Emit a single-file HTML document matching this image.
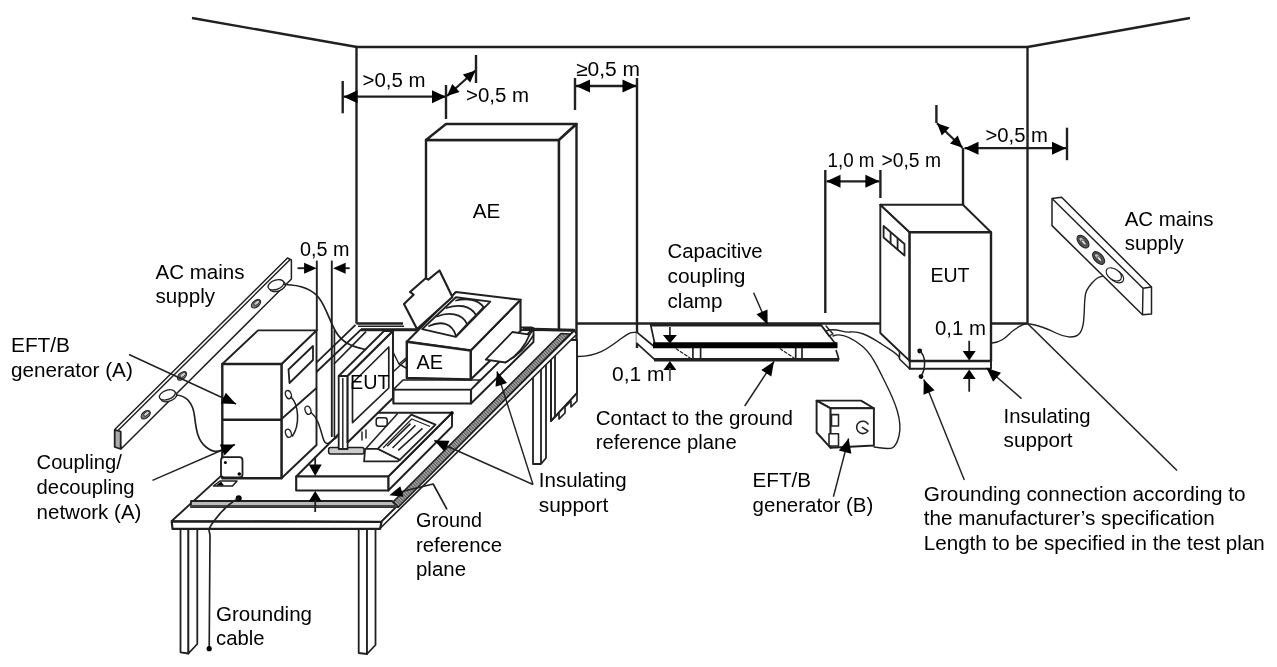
<!DOCTYPE html>
<html><head><meta charset="utf-8"><title>EFT/B test setup</title>
<style>
html,body{margin:0;padding:0;background:#fff;}
body{width:1277px;height:667px;overflow:hidden;}
svg{display:block;filter:blur(0.55px);}
svg text{font-family:"Liberation Sans",Arial,sans-serif;fill:#000;}
</style></head><body>
<svg width="1277" height="667" viewBox="0 0 1277 667">
<rect width="1277" height="667" fill="#fff"/>
<line x1="192" y1="18" x2="357" y2="47" stroke="#202020" stroke-width="2.4" />
<line x1="356" y1="47" x2="1028" y2="47" stroke="#202020" stroke-width="2.4" />
<line x1="1027.5" y1="47" x2="1190" y2="18" stroke="#202020" stroke-width="2.4" />
<line x1="356.5" y1="47" x2="356.5" y2="323.5" stroke="#202020" stroke-width="2.4" />
<line x1="1027.5" y1="47" x2="1027.5" y2="323.5" stroke="#202020" stroke-width="2.4" />
<line x1="356.5" y1="323.5" x2="403" y2="323.5" stroke="#202020" stroke-width="2.4" />
<line x1="577" y1="323.5" x2="880" y2="323.5" stroke="#202020" stroke-width="2.4" />
<line x1="991" y1="323.5" x2="1027.5" y2="323.5" stroke="#202020" stroke-width="2.4" />
<line x1="1027.5" y1="323.5" x2="1177" y2="470.5" stroke="#202020" stroke-width="1.56" />
<line x1="342.7" y1="81" x2="342.7" y2="113.3" stroke="#202020" stroke-width="2.4" />
<line x1="343.5" y1="96.7" x2="446" y2="96.7" stroke="#202020" stroke-width="2.28" />
<polygon points="446.0,96.7 432.0,103.2 432.0,90.2" fill="#000"/>
<polygon points="343.5,96.7 357.5,90.2 357.5,103.2" fill="#000"/>
<line x1="446" y1="85" x2="446" y2="119" stroke="#202020" stroke-width="2.4" />
<line x1="447" y1="96" x2="475.5" y2="70.5" stroke="#202020" stroke-width="2.28" />
<polygon points="475.5,70.5 470.2,82.6 462.9,74.4" fill="#000"/>
<polygon points="447.0,96.0 452.3,83.9 459.6,92.1" fill="#000"/>
<line x1="476" y1="55" x2="476" y2="83" stroke="#202020" stroke-width="2.4" />
<text x="362.5" y="86.8" font-size="20.5" textLength="63" lengthAdjust="spacingAndGlyphs" >&gt;0,5 m</text>
<text x="466" y="101.7" font-size="20.5" textLength="63" lengthAdjust="spacingAndGlyphs" >&gt;0,5 m</text>
<text x="576" y="76" font-size="20.5" textLength="64" lengthAdjust="spacingAndGlyphs" >≥0,5 m</text>
<line x1="575" y1="78" x2="575" y2="110" stroke="#202020" stroke-width="2.4" />
<line x1="576" y1="86" x2="636.5" y2="86" stroke="#202020" stroke-width="2.28" />
<polygon points="636.5,86.0 622.5,92.5 622.5,79.5" fill="#000"/>
<polygon points="576.0,86.0 590.0,79.5 590.0,92.5" fill="#000"/>
<line x1="637" y1="78" x2="637" y2="348" stroke="#202020" stroke-width="2.4" />
<text x="827.5" y="166.7" font-size="20.5" textLength="47" lengthAdjust="spacingAndGlyphs" >1,0 m</text>
<text x="881.5" y="166.7" font-size="20.5" textLength="59.5" lengthAdjust="spacingAndGlyphs" >&gt;0,5 m</text>
<line x1="825.3" y1="170" x2="825.3" y2="313" stroke="#202020" stroke-width="2.4" />
<line x1="880.4" y1="170" x2="880.4" y2="198" stroke="#202020" stroke-width="2.4" />
<line x1="826.5" y1="181.3" x2="879.4" y2="181.3" stroke="#202020" stroke-width="2.28" />
<polygon points="879.4,181.3 865.4,187.8 865.4,174.8" fill="#000"/>
<polygon points="826.5,181.3 840.5,174.8 840.5,187.8" fill="#000"/>
<line x1="936.4" y1="105" x2="936.4" y2="123" stroke="#202020" stroke-width="2.4" />
<line x1="937" y1="123.2" x2="962.5" y2="147.7" stroke="#202020" stroke-width="2.28" />
<polygon points="962.5,147.7 950.0,143.4 957.7,135.4" fill="#000"/>
<polygon points="937.0,123.2 949.5,127.5 941.8,135.5" fill="#000"/>
<line x1="963" y1="148" x2="963" y2="205" stroke="#202020" stroke-width="2.4" />
<line x1="964.5" y1="148.2" x2="1066" y2="148.2" stroke="#202020" stroke-width="2.28" />
<polygon points="1066.0,148.2 1052.0,154.7 1052.0,141.7" fill="#000"/>
<polygon points="964.5,148.2 978.5,141.7 978.5,154.7" fill="#000"/>
<line x1="1067" y1="127.7" x2="1067" y2="160.2" stroke="#202020" stroke-width="2.4" />
<text x="985.5" y="141.7" font-size="20.5" textLength="62.5" lengthAdjust="spacingAndGlyphs" >&gt;0,5 m</text>
<polyline points="426,330 426,140 559,140 559,330" fill="#fff" stroke="#202020" stroke-width="2.4" stroke-linejoin="round" />
<polygon points="426,140 446,124 576.5,124 559,140" fill="#fff" stroke="#202020" stroke-width="2.4" stroke-linejoin="round" />
<polygon points="559,140 576.5,124 576.5,393 559,393" fill="#fff" stroke="#202020" stroke-width="2.4" stroke-linejoin="round" />
<line x1="559" y1="140" x2="559" y2="330" stroke="#202020" stroke-width="1.92" />
<text x="472.7" y="218" font-size="20.5" textLength="27.5" lengthAdjust="spacingAndGlyphs" >AE</text>
<polygon points="551,340 577,340 577,393 551,421" fill="#fff" stroke="#202020" stroke-width="1.92" stroke-linejoin="round" />
<path d="M577 393 L577 401 L571 407 L571 401 L565 407 L565 413 L559 419 L559 413 L551 421" fill="none" stroke="#202020" stroke-width="1.68" stroke-linecap="round" stroke-linejoin="round" />
<path d="M577 356.5 C 600 357, 612 345, 622 338 S 632 332.5, 637 332.5" fill="none" stroke="#202020" stroke-width="1.38" stroke-linecap="round" stroke-linejoin="round" />
<polygon points="636.4,331.8 636.4,342.8 655,359.8 839,359.8 836.5,352 655,348" fill="#fff" stroke="none" stroke-width="0.0" stroke-linejoin="round" />
<line x1="636.4" y1="331.8" x2="653.5" y2="346" stroke="#202020" stroke-width="1.68" />
<line x1="636.4" y1="342.8" x2="655" y2="359.8" stroke="#202020" stroke-width="1.68" />
<line x1="839" y1="359.8" x2="836" y2="350" stroke="#202020" stroke-width="1.68" />
<line x1="654" y1="359.8" x2="839" y2="359.8" stroke="#202020" stroke-width="3.6" />
<line x1="692.9" y1="348" x2="692.9" y2="359" stroke="#202020" stroke-width="1.68" />
<line x1="700.6" y1="348" x2="700.6" y2="359" stroke="#202020" stroke-width="1.68" />
<line x1="795.7" y1="348" x2="795.7" y2="359" stroke="#202020" stroke-width="1.68" />
<line x1="802" y1="348" x2="802" y2="359" stroke="#202020" stroke-width="1.68" />
<path d="M672 346 L690 358" fill="none" stroke="#202020" stroke-width="1.2" stroke-linecap="round" stroke-linejoin="round" stroke-dasharray="3 2"/>
<path d="M776 346 L794 358" fill="none" stroke="#202020" stroke-width="1.2" stroke-linecap="round" stroke-linejoin="round" stroke-dasharray="3 2"/>
<polygon points="650.7,325 821,325 836.4,345 655,345" fill="#fff" stroke="#202020" stroke-width="1.68" stroke-linejoin="round" />
<line x1="650" y1="324.8" x2="821" y2="324.8" stroke="#202020" stroke-width="3.6" />
<line x1="653" y1="345.2" x2="837.5" y2="345.2" stroke="#000" stroke-width="6.12" />
<path d="M821 325 L829 336 L833 334 L826 326" fill="none" stroke="#202020" stroke-width="1.38" stroke-linecap="round" stroke-linejoin="round" />
<line x1="669.9" y1="327" x2="669.9" y2="338" stroke="#202020" stroke-width="1.68" />
<polygon points="669.9,343.5 662.9,335.0 676.9,335.0" fill="#000"/>
<polygon points="669.9,361.0 676.4,370.0 663.4,370.0" fill="#000"/>
<line x1="669.9" y1="368" x2="669.9" y2="381" stroke="#555" stroke-width="1.92" />
<text x="612" y="380.6" font-size="20.5" textLength="52.5" lengthAdjust="spacingAndGlyphs" >0,1 m</text>
<text x="667.5" y="257.9" font-size="20.5" textLength="95.2" lengthAdjust="spacingAndGlyphs" >Capacitive</text>
<text x="667.5" y="283" font-size="20.5" textLength="78" lengthAdjust="spacingAndGlyphs" >coupling</text>
<text x="667.5" y="308" font-size="20.5" textLength="55" lengthAdjust="spacingAndGlyphs" >clamp</text>
<line x1="753.6" y1="292.7" x2="767.6" y2="324.6" stroke="#202020" stroke-width="1.44" />
<polygon points="767.6,324.6 756.5,314.2 767.5,309.4" fill="#000"/>
<line x1="744.7" y1="406" x2="774" y2="361.5" stroke="#202020" stroke-width="1.44" />
<polygon points="774.0,361.5 771.3,376.5 761.3,369.9" fill="#000"/>
<text x="595.7" y="425.2" font-size="20.5" textLength="197.3" lengthAdjust="spacingAndGlyphs" >Contact to the ground</text>
<text x="595.7" y="449.3" font-size="20.5" textLength="141" lengthAdjust="spacingAndGlyphs" >reference plane</text>
<path d="M826 331 C 836 327, 842 333, 850 332 S 866 334, 880 343" fill="none" stroke="#202020" stroke-width="1.38" stroke-linecap="round" stroke-linejoin="round" />
<path d="M833 336 C 842 332, 852 338, 862 346 S 878 368, 886 384 S 903 420, 899 436 S 890 449, 874 447" fill="none" stroke="#202020" stroke-width="1.38" stroke-linecap="round" stroke-linejoin="round" />
<path d="M880 343 C 890 350, 896 352, 900 358" fill="none" stroke="#202020" stroke-width="1.38" stroke-linecap="round" stroke-linejoin="round" />
<polygon points="816.6,400.6 861,400.6 873.9,408.3 830.6,408.3" fill="#fff" stroke="#202020" stroke-width="1.92" stroke-linejoin="round" />
<polygon points="816.6,400.6 830.6,408.3 830.6,447.8 816.6,432.5" fill="#fff" stroke="#202020" stroke-width="1.92" stroke-linejoin="round" />
<polygon points="830.6,408.3 873.9,408.3 873.9,445.5 830.6,447.8" fill="#fff" stroke="#202020" stroke-width="1.92" stroke-linejoin="round" />
<polygon points="831.5,414.6 838.5,414.6 838.5,426 831.5,426" fill="#fff" stroke="#202020" stroke-width="1.56" stroke-linejoin="round" />
<polygon points="829,433.8 838.5,433.8 838.5,446 829,446" fill="#fff" stroke="#202020" stroke-width="1.56" stroke-linejoin="round" />
<path d="M868 424 A6.2 6.2 0 1 0 867 432 M862.4 427.4 L868 431" fill="none" stroke="#202020" stroke-width="1.56" stroke-linecap="round" stroke-linejoin="round" />
<line x1="833.4" y1="496.8" x2="848.6" y2="438.5" stroke="#202020" stroke-width="1.44" />
<polygon points="848.6,438.5 851.4,453.7 838.8,450.4" fill="#000"/>
<text x="752.6" y="486.7" font-size="20.5" textLength="58.4" lengthAdjust="spacingAndGlyphs" >EFT/B</text>
<text x="752.6" y="512" font-size="20.5" textLength="120.7" lengthAdjust="spacingAndGlyphs" >generator (B)</text>
<polygon points="880.3,204.7 909.6,232.2 909.6,361 880.3,333" fill="#fff" stroke="#202020" stroke-width="1.92" stroke-linejoin="round" />
<polygon points="880.3,204.7 963,204.7 991,232.2 909.6,232.2" fill="#fff" stroke="#202020" stroke-width="1.92" stroke-linejoin="round" />
<polygon points="909.6,361 991,361 991,368.8 909.6,368.8" fill="#fff" stroke="#202020" stroke-width="1.92" stroke-linejoin="round" />
<polygon points="909.6,361 909.6,368.8 899.5,359 899.5,351.5" fill="#fff" stroke="#202020" stroke-width="1.56" stroke-linejoin="round" />
<polygon points="909.6,232.2 991,232.2 991,361 909.6,361" fill="#fff" stroke="#202020" stroke-width="2.4" stroke-linejoin="round" />
<polygon points="883.6,226 904.5,244 904.5,255.5 883.6,237.5" fill="#fff" stroke="#202020" stroke-width="1.8" stroke-linejoin="round" />
<line x1="890.6" y1="232" x2="890.6" y2="243.5" stroke="#202020" stroke-width="1.8" />
<line x1="897.6" y1="238" x2="897.6" y2="249.5" stroke="#202020" stroke-width="1.8" />
<text x="930.4" y="282" font-size="20.5" textLength="39" lengthAdjust="spacingAndGlyphs" >EUT</text>
<text x="935" y="335.4" font-size="20.5" textLength="51" lengthAdjust="spacingAndGlyphs" >0,1 m</text>
<circle cx="919.7" cy="351" r="2.4" fill="#000"/>
<circle cx="921" cy="376.6" r="2.4" fill="#000"/>
<path d="M919.7 351 C 926 356, 926 368, 921 376.4" fill="none" stroke="#202020" stroke-width="1.56" stroke-linecap="round" stroke-linejoin="round" />
<line x1="969.2" y1="340.8" x2="969.2" y2="352" stroke="#202020" stroke-width="1.8" />
<polygon points="969.2,360.6 962.7,351.1 975.7,351.1" fill="#000"/>
<polygon points="969.2,369.6 975.7,379.1 962.7,379.1" fill="#000"/>
<line x1="969.2" y1="378" x2="969.2" y2="391.7" stroke="#202020" stroke-width="1.8" />
<line x1="1021.5" y1="398.6" x2="986.5" y2="368" stroke="#202020" stroke-width="1.44" />
<polygon points="986.5,368.0 1001.0,372.7 993.1,381.7" fill="#000"/>
<line x1="964.3" y1="480" x2="923.8" y2="379.5" stroke="#202020" stroke-width="1.44" />
<polygon points="923.8,379.5 934.6,390.2 923.5,394.7" fill="#000"/>
<text x="1003.6" y="422.7" font-size="20.5" textLength="87" lengthAdjust="spacingAndGlyphs" >Insulating</text>
<text x="1003.6" y="447" font-size="20.5" textLength="69" lengthAdjust="spacingAndGlyphs" >support</text>
<text x="923.8" y="501.3" font-size="20.5" textLength="321.8" lengthAdjust="spacingAndGlyphs" >Grounding connection according to</text>
<text x="923.8" y="525.4" font-size="20.5" textLength="291" lengthAdjust="spacingAndGlyphs" >the manufacturer’s specification</text>
<text x="923.8" y="550.2" font-size="20.5" textLength="341" lengthAdjust="spacingAndGlyphs" >Length to be specified in the test plan</text>
<path d="M992 343 C 1004 342, 1008 334, 1014 330 S 1024 323, 1030 324 S 1048 329, 1056 333 S 1074 339, 1079 334 S 1084 318, 1084.5 305 S 1086 290, 1092 283 S 1100 277, 1106 275.5" fill="none" stroke="#202020" stroke-width="1.38" stroke-linecap="round" stroke-linejoin="round" />
<polygon points="1052,198.5 1061.6,197.3 1151.5,287 1151.5,314 1142.5,314.8 1052,225.6" fill="#fff" stroke="#202020" stroke-width="1.5" stroke-linejoin="round" />
<line x1="1052.5" y1="199" x2="1143" y2="288.3" stroke="#202020" stroke-width="1.44" />
<line x1="1143" y1="288.3" x2="1151.5" y2="287" stroke="#202020" stroke-width="1.44" />
<line x1="1143" y1="288.3" x2="1142.5" y2="314.8" stroke="#202020" stroke-width="1.44" />
<ellipse cx="1083" cy="241.6" rx="7.6" ry="4.4" transform="rotate(48 1083 241.6)" fill="#555" stroke="#202020" stroke-width="1.0"/>
<ellipse cx="1082.4" cy="240.79999999999998" rx="4.6" ry="2.2" transform="rotate(48 1082.4 240.79999999999998)" fill="#bbb" stroke="#202020" stroke-width="0.8"/>
<ellipse cx="1083.8" cy="242.6" rx="3.2" ry="1.2" transform="rotate(48 1083.8 242.6)" fill="#eee" stroke="#202020" stroke-width="0.6"/>
<ellipse cx="1098.6" cy="258" rx="7.6" ry="4.4" transform="rotate(48 1098.6 258)" fill="#555" stroke="#202020" stroke-width="1.0"/>
<ellipse cx="1098.0" cy="257.2" rx="4.6" ry="2.2" transform="rotate(48 1098.0 257.2)" fill="#bbb" stroke="#202020" stroke-width="0.8"/>
<ellipse cx="1099.3999999999999" cy="259.0" rx="3.2" ry="1.2" transform="rotate(48 1099.3999999999999 259.0)" fill="#eee" stroke="#202020" stroke-width="0.6"/>
<ellipse cx="1116" cy="276.2" rx="8.6" ry="5.4" transform="rotate(35 1116 276.2)" fill="#fff" stroke="#202020" stroke-width="1.2"/>
<ellipse cx="1113.8" cy="274.4" rx="8.6" ry="5.4" transform="rotate(35 1113.8 274.4)" fill="#fff" stroke="#202020" stroke-width="1.2"/>
<text x="1124.7" y="226.3" font-size="20.5" textLength="88.7" lengthAdjust="spacingAndGlyphs" >AC mains</text>
<text x="1124.7" y="250.4" font-size="20.5" textLength="59" lengthAdjust="spacingAndGlyphs" >supply</text>
<line x1="316.4" y1="362.6" x2="355.5" y2="324.8" stroke="#202020" stroke-width="1.8" />
<line x1="358" y1="326.2" x2="404" y2="326.2" stroke="#202020" stroke-width="1.44" />
<polygon points="533,372 541,364 546,359 546,458 541,464 533,464" fill="#fff" stroke="#202020" stroke-width="1.8" stroke-linejoin="round" />
<line x1="541" y1="364" x2="541" y2="464" stroke="#202020" stroke-width="1.8" />
<line x1="551" y1="352" x2="551" y2="421" stroke="#202020" stroke-width="1.8" />
<line x1="555" y1="348" x2="555" y2="417" stroke="#202020" stroke-width="1.8" />
<polygon points="171.7,521 222.2,474.9 316.4,372 361,329.6 574.5,330.3 381.5,521.7" fill="#fff" stroke="#202020" stroke-width="1.92" stroke-linejoin="round" />
<line x1="361" y1="329.8" x2="416" y2="329.8" stroke="#202020" stroke-width="3.12" />
<line x1="523" y1="329" x2="574.5" y2="330.3" stroke="#202020" stroke-width="3.12" />
<polygon points="381.5,521.7 574.5,330.3 576.5,334.5 380,528.5" fill="#fff" stroke="#202020" stroke-width="1.68" stroke-linejoin="round" />
<polygon points="171.7,521.5 381.5,522 380,528.9 172.5,528.9" fill="#fff" stroke="#202020" stroke-width="2.16" stroke-linejoin="round" />
<polygon points="180.5,529 188.4,529 188.4,653.5 180.5,652.3" fill="#fff" stroke="#202020" stroke-width="1.8" stroke-linejoin="round" />
<polygon points="188.4,529 197.3,529 197.3,644 188.4,653.5" fill="#fff" stroke="#202020" stroke-width="1.8" stroke-linejoin="round" />
<polygon points="358.7,529 367,529 367,654 358.7,653" fill="#fff" stroke="#202020" stroke-width="1.8" stroke-linejoin="round" />
<polygon points="367,529 375.5,529 375.5,645 367,654" fill="#fff" stroke="#202020" stroke-width="1.8" stroke-linejoin="round" />
<defs><pattern id="hat" width="2.4" height="2.4" patternUnits="userSpaceOnUse" patternTransform="rotate(-45)"><rect width="2.4" height="2.4" fill="#aaa"/><rect width="1.1" height="2.4" fill="#555"/></pattern></defs>
<polygon points="390.5,504.5 561,333.5 570,334 398.5,507" fill="url(#hat)" stroke="#202020" stroke-width="1.68" stroke-linejoin="round" />
<polygon points="191,501 392,501 398,507 191,507" fill="#bbb" stroke="#202020" stroke-width="1.8" stroke-linejoin="round" />
<line x1="190" y1="506.3" x2="397" y2="506.3" stroke="#444" stroke-width="2.64" />
<polygon points="471,389.5 533.5,328.3 533.5,342 471,403.5" fill="#fff" stroke="#202020" stroke-width="1.92" stroke-linejoin="round" />
<polygon points="393.4,389.5 471,389.5 471,403.5 393.4,403.5" fill="#fff" stroke="#202020" stroke-width="2.16" stroke-linejoin="round" />
<polygon points="393.4,389.5 403,380 480,380 471,389.5" fill="#fff" stroke="#202020" stroke-width="1.68" stroke-linejoin="round" />
<path d="M521 327.5 L531 327.5 Q533.5 327.5 533.5 330" fill="none" stroke="#202020" stroke-width="1.92" stroke-linecap="round" stroke-linejoin="round" />
<polygon points="470.7,350.5 520.5,299.8 520.5,331 470.7,379.5" fill="#fff" stroke="#202020" stroke-width="2.16" stroke-linejoin="round" />
<polygon points="406.8,341.8 455.9,292 520.5,299.8 470.7,350.5" fill="#fff" stroke="#202020" stroke-width="2.16" stroke-linejoin="round" />
<polygon points="406.8,341.8 470.7,350.5 470.7,379.5 406.8,378" fill="#fff" stroke="#202020" stroke-width="2.4" stroke-linejoin="round" />
<polygon points="422.2,329.1 455.9,297.2 490.3,301.6 455.9,336.9" fill="#fff" stroke="#202020" stroke-width="1.92" stroke-linejoin="round" />
<path d="M429 326 C 440 321, 452 322, 456 336 M437 316.5 C 448 312, 462 313, 467 324 M446.4 308 C 458 304, 470 305, 476 315 M456 300.5 C 466 298, 478 299, 483.5 307" fill="none" stroke="#202020" stroke-width="1.8" stroke-linecap="round" stroke-linejoin="round" />
<path d="M456 336 L467 324 M467 324 L476 315 M476 315 L483.5 307" fill="none" stroke="#202020" stroke-width="1.44" stroke-linecap="round" stroke-linejoin="round" />
<polygon points="417,329 404,304 413.6,294.7 410,292 425.7,278.3 428.3,279.6 439.5,270.5 452.4,297" fill="#fff" stroke="#202020" stroke-width="2.16" stroke-linejoin="round" />
<path d="M485.7 359.7 L512.4 332 L529.5 334.7 Q 523 352 505.5 362.5 Z" fill="#fff" stroke="#202020" stroke-width="1.8" stroke-linecap="round" stroke-linejoin="round" />
<path d="M529.5 334.7 L533 330 M505.5 362.5 Q 524 352 533.5 335" fill="none" stroke="#202020" stroke-width="1.56" stroke-linecap="round" stroke-linejoin="round" />
<polygon points="388.3,476.5 452,412.8 452,426.5 388.3,490.5" fill="#fff" stroke="#202020" stroke-width="1.92" stroke-linejoin="round" />
<polygon points="296.2,476.5 360,412.8 452,412.8 388.3,476.5" fill="#fff" stroke="#202020" stroke-width="1.92" stroke-linejoin="round" />
<polygon points="296.2,476.5 388.3,476.5 388.3,490.5 296.2,490.5" fill="#fff" stroke="#202020" stroke-width="2.16" stroke-linejoin="round" />
<circle cx="452" cy="413" r="1.8" fill="#000"/>
<line x1="366.2" y1="448.3" x2="397.7" y2="413.6" stroke="#202020" stroke-width="1.56" />
<rect x="376.2" y="417.8" width="11" height="8.4" rx="2.5" fill="#fff" stroke="#1c1c1c" stroke-width="1.5"/>
<polygon points="365.1,448.8 377.7,448.8 399.8,459.8 397.7,461.4 364.1,461.4" fill="#fff" stroke="#202020" stroke-width="1.8" stroke-linejoin="round" />
<polygon points="377.7,448.8 411.3,414.7 435.5,424.7 399.8,459.8" fill="#fff" stroke="#202020" stroke-width="1.8" stroke-linejoin="round" />
<line x1="387.2" y1="446.2" x2="410.5" y2="423.6" stroke="#202020" stroke-width="1.56" />
<line x1="392.5" y1="448" x2="415.5" y2="425.2" stroke="#202020" stroke-width="1.56" />
<line x1="398.2" y1="450.4" x2="422.4" y2="428.3" stroke="#202020" stroke-width="1.56" />
<path d="M383.5 447.5 L411.8 419 L429.5 426.3" fill="none" stroke="#202020" stroke-width="1.2" stroke-linecap="round" stroke-linejoin="round" />
<line x1="404" y1="461" x2="449" y2="416" stroke="#202020" stroke-width="1.56" />
<line x1="331.8" y1="260.6" x2="331.8" y2="437" stroke="#202020" stroke-width="1.92" />
<line x1="334.4" y1="330" x2="334.4" y2="437" stroke="#202020" stroke-width="1.68" />
<line x1="334" y1="364" x2="366" y2="331.6" stroke="#202020" stroke-width="1.68" />
<rect x="328.6" y="447.4" width="35.4" height="6.6" rx="2" fill="#ccc" stroke="#1c1c1c" stroke-width="1.5"/>
<path d="M362 432 L362 440 M366 430 L366 438" fill="none" stroke="#202020" stroke-width="1.44" stroke-linecap="round" stroke-linejoin="round" />
<polygon points="338.7,376 347.6,376 393,331 384,331" fill="#fff" stroke="#202020" stroke-width="1.8" stroke-linejoin="round" />
<polygon points="338.7,376 347.6,376 347.6,449 338.7,449" fill="#fff" stroke="#202020" stroke-width="1.8" stroke-linejoin="round" />
<line x1="342.8" y1="378" x2="342.8" y2="449" stroke="#202020" stroke-width="1.44" />
<polygon points="347.6,376 393,331 393,398 347.6,442.4" fill="#fff" stroke="#202020" stroke-width="2.04" stroke-linejoin="round" />
<polygon points="352.5,383 388.8,347 388.8,388 352.5,422.6" fill="#fff" stroke="#202020" stroke-width="1.68" stroke-linejoin="round" />
<text x="350" y="388.8" font-size="20.5" textLength="39.5" lengthAdjust="spacingAndGlyphs" >EUT</text>
<path d="M393 352 L399 364 L406 368 M399 364 L406 358 M393 372 L406 360" fill="none" stroke="#202020" stroke-width="1.44" stroke-linecap="round" stroke-linejoin="round" />
<polygon points="281.5,364 316.5,330.4 316.5,445 281.5,478.3" fill="#fff" stroke="#202020" stroke-width="1.92" stroke-linejoin="round" />
<polygon points="222.3,364 258,330.4 316.5,330.4 281.5,364" fill="#fff" stroke="#202020" stroke-width="1.92" stroke-linejoin="round" />
<polygon points="222.3,364 281.5,364 281.5,478.3 222.3,478.3" fill="#fff" stroke="#202020" stroke-width="2.4" stroke-linejoin="round" />
<line x1="222.3" y1="419.8" x2="281.5" y2="419.8" stroke="#202020" stroke-width="2.4" />
<line x1="281.5" y1="419" x2="316.5" y2="388" stroke="#202020" stroke-width="1.8" />
<polygon points="288.5,369.5 313,346 313,360 289.5,383" fill="#fff" stroke="#202020" stroke-width="1.8" stroke-linejoin="round" />
<ellipse cx="288.4" cy="394.6" rx="2.8" ry="4.2" transform="rotate(-20 288.4 394.6)" fill="#fff" stroke="#202020" stroke-width="1.3"/>
<ellipse cx="308" cy="410.2" rx="2.8" ry="4.2" transform="rotate(-20 308 410.2)" fill="#fff" stroke="#202020" stroke-width="1.3"/>
<ellipse cx="288.4" cy="433.3" rx="2.8" ry="4.2" transform="rotate(-20 288.4 433.3)" fill="#fff" stroke="#202020" stroke-width="1.3"/>
<path d="M291 397 C 299 405, 300 425, 292.5 436" fill="none" stroke="#202020" stroke-width="1.56" stroke-linecap="round" stroke-linejoin="round" />
<path d="M311 412.5 C 318 418, 320 428, 323 438 S 330 442, 337 437" fill="none" stroke="#202020" stroke-width="1.56" stroke-linecap="round" stroke-linejoin="round" />
<line x1="316.8" y1="260.6" x2="316.8" y2="331" stroke="#202020" stroke-width="1.92" />
<line x1="297.5" y1="268.2" x2="306" y2="268.2" stroke="#202020" stroke-width="1.92" />
<polygon points="316.6,268.2 304.1,273.7 304.1,262.7" fill="#000"/>
<line x1="345" y1="268.2" x2="349.7" y2="268.2" stroke="#202020" stroke-width="1.92" />
<polygon points="333.1,268.2 345.6,262.7 345.6,273.7" fill="#000"/>
<text x="300" y="255.6" font-size="20.5" textLength="49.5" lengthAdjust="spacingAndGlyphs" >0,5 m</text>
<rect x="221" y="457.2" width="21.5" height="20.3" rx="3" fill="#fff" stroke="#1c1c1c" stroke-width="1.8"/>
<circle cx="225.4" cy="462.5" r="1.5" fill="#000"/>
<circle cx="239.3" cy="474" r="1.8" fill="#000"/>
<polygon points="220,481 237,481 232.5,486 213.4,486" fill="#fff" stroke="#202020" stroke-width="1.56" stroke-linejoin="round" />
<polygon points="216,485.5 221,481.5 224,485.5" fill="#000"/>
<circle cx="238.7" cy="498.3" r="3" fill="#000"/>
<path d="M238.7 498.3 C 230 503, 222 510, 214 521 S 210 530, 210 536 L 209.2 648.7" fill="none" stroke="#202020" stroke-width="1.68" stroke-linecap="round" stroke-linejoin="round" />
<circle cx="209.2" cy="648.7" r="2.6" fill="#000"/>
<line x1="315.2" y1="456.8" x2="315.2" y2="466" stroke="#202020" stroke-width="1.8" />
<polygon points="315.2,476.0 308.7,464.5 321.7,464.5" fill="#000"/>
<polygon points="315.2,491.0 321.7,501.5 308.7,501.5" fill="#000"/>
<line x1="315.2" y1="500" x2="315.2" y2="512" stroke="#202020" stroke-width="1.8" />
<polygon points="114.7,429.5 287.5,258 291.4,260 291.4,279 121.5,448.5" fill="#fff" stroke="#202020" stroke-width="1.5" stroke-linejoin="round" />
<line x1="118" y1="430.5" x2="290.2" y2="259.4" stroke="#202020" stroke-width="1.44" />
<polygon points="114.7,429.8 120.7,431.5 120.7,449 114.7,447" fill="#aaa" stroke="#202020" stroke-width="1.8" stroke-linejoin="round" />
<ellipse cx="256" cy="303.8" rx="5.4" ry="3.2" transform="rotate(-40 256 303.8)" fill="#777" stroke="#202020" stroke-width="1.1"/>
<ellipse cx="256.8" cy="302.8" rx="3.4" ry="1.7" transform="rotate(-40 256.8 302.8)" fill="#ccc" stroke="#202020" stroke-width="0.8"/>
<ellipse cx="182" cy="375.9" rx="5.4" ry="3.2" transform="rotate(-40 182 375.9)" fill="#777" stroke="#202020" stroke-width="1.1"/>
<ellipse cx="182.8" cy="374.9" rx="3.4" ry="1.7" transform="rotate(-40 182.8 374.9)" fill="#ccc" stroke="#202020" stroke-width="0.8"/>
<ellipse cx="145.7" cy="414.7" rx="5.4" ry="3.2" transform="rotate(-40 145.7 414.7)" fill="#777" stroke="#202020" stroke-width="1.1"/>
<ellipse cx="146.5" cy="413.7" rx="3.4" ry="1.7" transform="rotate(-40 146.5 413.7)" fill="#ccc" stroke="#202020" stroke-width="0.8"/>
<ellipse cx="277.5" cy="286.5" rx="8.3" ry="4.6" transform="rotate(-20 277.5 286.5)" fill="#fff" stroke="#202020" stroke-width="1.3"/>
<ellipse cx="276" cy="284.8" rx="8.3" ry="4.6" transform="rotate(-20 276 284.8)" fill="#fff" stroke="#202020" stroke-width="1.3"/>
<ellipse cx="168.8" cy="396.6" rx="8.3" ry="4.6" transform="rotate(-20 168.8 396.6)" fill="#fff" stroke="#202020" stroke-width="1.3"/>
<ellipse cx="167.3" cy="394.9" rx="8.3" ry="4.6" transform="rotate(-20 167.3 394.9)" fill="#fff" stroke="#202020" stroke-width="1.3"/>
<path d="M285 284.5 C 300 285, 312 289, 319 298 S 330 322, 336 332 S 350 346, 365.5 349.5" fill="none" stroke="#202020" stroke-width="1.68" stroke-linecap="round" stroke-linejoin="round" />
<path d="M176.5 395 C 188 396, 193 404, 194.5 416 S 197 440, 206 447 S 218 451, 226 449" fill="none" stroke="#202020" stroke-width="1.68" stroke-linecap="round" stroke-linejoin="round" />
<line x1="129" y1="354.5" x2="236" y2="404" stroke="#202020" stroke-width="1.44" />
<polygon points="236.0,404.0 220.8,403.6 225.8,392.7" fill="#000"/>
<line x1="152.5" y1="480.3" x2="235" y2="444.5" stroke="#202020" stroke-width="1.44" />
<polygon points="235.0,444.5 224.5,455.6 219.8,444.6" fill="#000"/>
<text x="155.5" y="279.3" font-size="20.5" textLength="89" lengthAdjust="spacingAndGlyphs" >AC mains</text>
<text x="155.5" y="303.4" font-size="20.5" textLength="59.5" lengthAdjust="spacingAndGlyphs" >supply</text>
<text x="11" y="351.5" font-size="20.5" textLength="59" lengthAdjust="spacingAndGlyphs" >EFT/B</text>
<text x="11" y="376.6" font-size="20.5" textLength="121.8" lengthAdjust="spacingAndGlyphs" >generator (A)</text>
<text x="36.6" y="469.3" font-size="20.5" textLength="85.2" lengthAdjust="spacingAndGlyphs" >Coupling/</text>
<text x="36.6" y="494.4" font-size="20.5" textLength="98" lengthAdjust="spacingAndGlyphs" >decoupling</text>
<text x="36.6" y="518.5" font-size="20.5" textLength="104.8" lengthAdjust="spacingAndGlyphs" >network (A)</text>
<text x="216" y="621" font-size="20.5" textLength="96" lengthAdjust="spacingAndGlyphs" >Grounding</text>
<text x="216" y="645" font-size="20.5" textLength="48.5" lengthAdjust="spacingAndGlyphs" >cable</text>
<text x="416" y="527" font-size="20.5" textLength="66" lengthAdjust="spacingAndGlyphs" >Ground</text>
<text x="416" y="552" font-size="20.5" textLength="86" lengthAdjust="spacingAndGlyphs" >reference</text>
<text x="416" y="576" font-size="20.5" textLength="50" lengthAdjust="spacingAndGlyphs" >plane</text>
<text x="538.8" y="486.9" font-size="20.5" textLength="87.8" lengthAdjust="spacingAndGlyphs" >Insulating</text>
<text x="538.8" y="512" font-size="20.5" textLength="69.5" lengthAdjust="spacingAndGlyphs" >support</text>
<text x="416.5" y="368.6" font-size="20.5" textLength="26.5" lengthAdjust="spacingAndGlyphs" >AE</text>
<path d="M446.7 508.8 L433.2 484 L402 491.5" fill="none" stroke="#202020" stroke-width="1.68" stroke-linecap="round" stroke-linejoin="round" />
<polygon points="389.4,495.3 400.3,486.3 403.4,496.8" fill="#000"/>
<line x1="533" y1="484.5" x2="434.3" y2="440.5" stroke="#202020" stroke-width="1.44" />
<polygon points="434.3,440.5 449.5,440.7 444.6,451.7" fill="#000"/>
<line x1="533" y1="484.5" x2="497" y2="371.5" stroke="#202020" stroke-width="1.44" />
<polygon points="497.0,371.5 507.0,383.0 495.5,386.7" fill="#000"/>
</svg>
</body></html>
